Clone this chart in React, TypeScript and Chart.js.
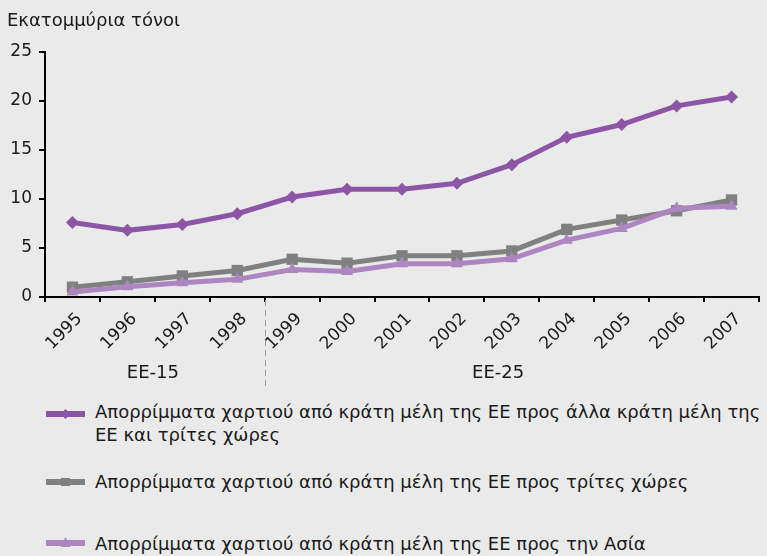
import React, { useEffect, useRef } from "react";
import { Chart, registerables } from "chart.js";

Chart.register(...registerables);

const years = ["1995", "1996", "1997", "1998", "1999", "2000", "2001", "2002", "2003", "2004", "2005", "2006", "2007"];
const toAllCountries = [7.6, 6.8, 7.4, 8.5, 10.2, 11.0, 11.0, 11.6, 13.5, 16.3, 17.6, 19.5, 20.4];
const toThirdCountries = [1.0, 1.55, 2.15, 2.7, 3.85, 3.45, 4.2, 4.2, 4.7, 6.9, 7.85, 8.8, 9.9];
const toAsia = [0.5, 1.05, 1.45, 1.8, 2.8, 2.6, 3.4, 3.4, 3.9, 5.8, 7.0, 9.05, 9.25];
const yTickValues = [0, 5, 10, 15, 20, 25];
const groupLabels = ["EE-15", "EE-25"];
const yTitle = "Εκατομμύρια τόνοι";
const seriesNames = [
  "Απορρίμματα χαρτιού από κράτη μέλη της ΕΕ προς άλλα κράτη μέλη της ΕΕ και τρίτες χώρες",
  "Απορρίμματα χαρτιού από κράτη μέλη της ΕΕ προς τρίτες χώρες",
  "Απορρίμματα χαρτιού από κράτη μέλη της ΕΕ προς την Ασία",
];

const FONT = '"DejaVu Sans", Verdana, sans-serif';
const TEXT = "#1a1a1a";
const BG = "#eaeaea";
const C1 = "#8d55a5";
const C2 = "#808080";
const C3 = "#ad86c1";

const extrasPlugin = {
  id: "extras",
  afterDraw(chart: any) {
    const { ctx } = chart;
    const x = chart.scales.x;
    ctx.save();
    ctx.fillStyle = TEXT;
    ctx.font = `18px ${FONT}`;
    ctx.textBaseline = "alphabetic";
    ctx.textAlign = "left";
    ctx.fillText(yTitle, 7, 26);

    const bx = x.getPixelForValue(3.5);
    ctx.strokeStyle = "#9a9a9a";
    ctx.lineWidth = 1;
    ctx.setLineDash([6, 4]);
    ctx.beginPath();
    ctx.moveTo(Math.round(bx) + 0.5, chart.chartArea.bottom + 3);
    ctx.lineTo(Math.round(bx) + 0.5, 387);
    ctx.stroke();
    ctx.setLineDash([]);

    ctx.textAlign = "center";
    const c1 = (x.left + bx) / 2 - 2;
    const c2 = x.getPixelForValue(7.75);
    ctx.fillText(groupLabels[0], c1, 378);
    ctx.fillText(groupLabels[1], c2, 378);
    ctx.restore();
  },
};

function Marker({ color, shape }: { color: string; shape: string }) {
  let m: any = null;
  if (shape === "diamond") m = <polygon points="19.5,3 24.5,8 19.5,13 14.5,8" fill={color} />;
  if (shape === "square") m = <rect x="15" y="4" width="9" height="8" fill={color} />;
  if (shape === "triangle") m = <polygon points="19.5,2 24.5,12 14.5,12" fill={color} />;
  return (
    <svg width="39" height="16" style={{ position: "absolute", left: 0, top: 0 }}>
      <rect x="0" y="5" width="39" height="6" fill={color} />
      {m}
    </svg>
  );
}

export default function App() {
  const ref = useRef<HTMLCanvasElement | null>(null);

  useEffect(() => {
    document.body.style.margin = "0";
    document.body.style.background = BG;
    const canvas = ref.current!;
    const chart = new Chart(canvas, {
      type: "line",
      data: {
        labels: years,
        datasets: [
          {
            label: seriesNames[0],
            data: toAllCountries,
            borderColor: C1,
            backgroundColor: C1,
            borderWidth: 5,
            pointStyle: "rectRot",
            pointRadius: 6.5,
            pointBorderWidth: 0,
            order: 0,
          },
          {
            label: seriesNames[1],
            data: toThirdCountries,
            borderColor: C2,
            backgroundColor: C2,
            borderWidth: 5,
            pointStyle: "rect",
            pointRadius: 8,
            pointBorderWidth: 0,
            order: 2,
          },
          {
            label: seriesNames[2],
            data: toAsia,
            borderColor: C3,
            backgroundColor: C3,
            borderWidth: 5,
            pointStyle: "triangle",
            pointRadius: 7,
            pointBorderWidth: 0,
            order: 1,
          },
        ],
      },
      options: {
        responsive: false,
        animation: false,
        layout: { padding: { top: 52, left: 0, right: 0, bottom: 0 } },
        plugins: {
          legend: { display: false },
          tooltip: { enabled: false },
          title: { display: false },
        },
        scales: {
          x: {
            offset: true,
            grid: {
              offset: true,
              drawOnChartArea: false,
              drawTicks: true,
              tickLength: 5,
              color: "#000",
              lineWidth: 2,
            },
            border: { display: true, color: "#000", width: 2 },
            ticks: {
              minRotation: 45,
              maxRotation: 45,
              autoSkip: false,
              font: { family: FONT, size: 17 },
              color: TEXT,
              padding: 7,
              labelOffset: 7,
            },
            afterFit(scale: any) {
              scale.height = 103;
              scale.paddingLeft = 0;
              scale.paddingRight = 0;
            },
          },
          y: {
            min: 0,
            max: 25,
            afterBuildTicks(scale: any) {
              scale.ticks = yTickValues.map((v) => ({ value: v }));
            },
            grid: {
              drawOnChartArea: false,
              drawTicks: true,
              tickLength: 6,
              color: "#000",
              lineWidth: 2,
            },
            border: { display: true, color: "#000", width: 2 },
            ticks: {
              font: { family: FONT, size: 17 },
              color: TEXT,
              padding: 7,
            },
            afterFit(scale: any) {
              scale.width = 45;
            },
          },
        },
      },
      plugins: [extrasPlugin],
    });
    return () => chart.destroy();
  }, []);

  const rowStyle: React.CSSProperties = {
    position: "absolute",
    left: 46,
    font: `18px ${FONT}`,
    lineHeight: "23px",
    color: TEXT,
    width: 721,
  };
  const textStyle: React.CSSProperties = { position: "absolute", left: 49, top: 0, width: 672 };

  return (
    <div style={{ position: "relative", width: 767, height: 556, background: BG, overflow: "hidden" }}>
      <canvas ref={ref} width={767} height={400} style={{ position: "absolute", left: 0, top: 0 }} />
      <div style={{ ...rowStyle, top: 400 }}>
        <div style={{ position: "absolute", left: 0, top: 6 }}>
          <Marker color={C1} shape="diamond" />
        </div>
        <div style={textStyle}>{seriesNames[0]}</div>
      </div>
      <div style={{ ...rowStyle, top: 470 }}>
        <div style={{ position: "absolute", left: 0, top: 4 }}>
          <Marker color={C2} shape="square" />
        </div>
        <div style={textStyle}>{seriesNames[1]}</div>
      </div>
      <div style={{ ...rowStyle, top: 532 }}>
        <div style={{ position: "absolute", left: 0, top: 3 }}>
          <Marker color={C3} shape="triangle" />
        </div>
        <div style={textStyle}>{seriesNames[2]}</div>
      </div>
    </div>
  );
}
